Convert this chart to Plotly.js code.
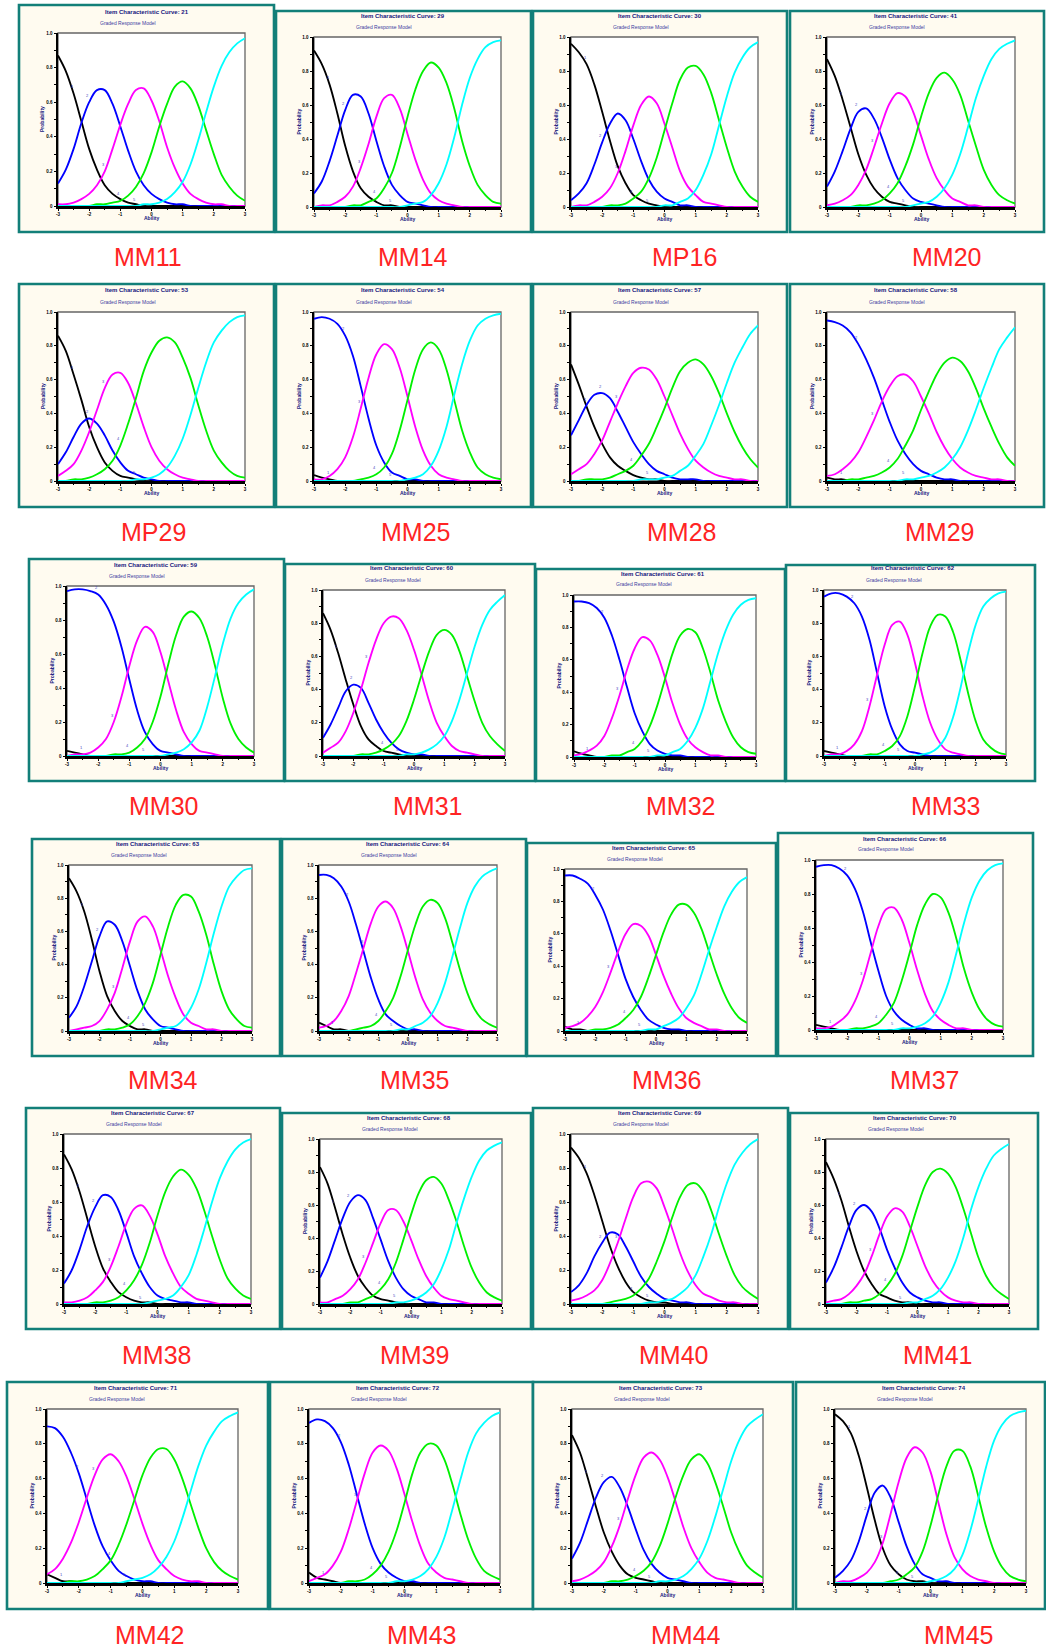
<!DOCTYPE html>
<html>
<head>
<meta charset="utf-8">
<script src="https://cdn.plot.ly/plotly-3.0.1.min.js"></script>
<style>
html,body{margin:0;padding:0;background:#ffffff;}
#chart{width:1046px;height:1648px;}
</style>
</head>
<body>
<div id="chart"></div>
<script>
// ---------- data ----------
const ability = [-3,-2.75,-2.5,-2.25,-2,-1.75,-1.5,-1.25,-1,-0.75,-0.5,-0.25,0,0.25,0.5,0.75,1,1.25,1.5,1.75,2,2.25,2.5,2.75,3];
const xTickVals = [-3,-2,-1,0,1,2,3];
const xTickText = ['-3','-2','-1','0','1','2','3'];
const yTickVals = [0,0.2,0.4,0.6,0.8,1];
const yTickText = ['0','0.2','0.4','0.6','0.8','1.0'];
const categoryNames = ['1','2','3','4','5'];
const panelNames = ['MM11','MM14','MP16','MM20','MP29','MM25','MM28','MM29','MM30','MM31','MM32','MM33',
                    'MM34','MM35','MM36','MM37','MM38','MM39','MM40','MM41','MM42','MM43','MM44','MM45'];
const itemNumbers = [21,29,30,41,53,54,57,58,59,60,61,62,63,64,65,66,67,68,69,70,71,72,73,74];

// each: [category 1, category 2, category 3, category 4, category 5] probabilities along the ability grid
const MM11 = [
 [.87,.78,.65,.49,.33, .21,.12,.07,.04,.02, .01,0,0,0,0, 0,0,0,0,0, 0,0,0,0,0],
 [.13,.21,.33,.48,.60, .67,.67,.59,.46,.32, .20,.12,.07,.04,.02, .01,.01,0,0,0, 0,0,0,0,0],
 [.01,.01,.02,.04,.07, .12,.20,.33,.47,.59, .67,.68,.61,.49,.34, .22,.13,.07,.04,.02, .01,.01,0,0,0],
 [0,0,0,0,0, .01,.01,.02,.03,.06, .11,.19,.31,.46,.59, .69,.72,.68,.58,.44, .30,.18,.11,.06,.03],
 [0,0,0,0,0, 0,0,0,0,0, 0,.01,.01,.02,.04, .08,.14,.24,.38,.54, .69,.81,.89,.94,.97]];
const MM14 = [
 [.92,.84,.72,.55,.36, .21,.11,.06,.03,.01, .01,0,0,0,0, 0,0,0,0,0, 0,0,0,0,0],
 [.08,.15,.27,.42,.57, .66,.65,.55,.39,.24, .13,.07,.03,.02,.01, 0,0,0,0,0, 0,0,0,0,0],
 [0,.01,.01,.03,.06, .12,.23,.37,.53,.64, .66,.58,.43,.28,.16, .08,.04,.02,.01,0, 0,0,0,0,0],
 [0,0,0,0,0, .01,.01,.03,.05,.11, .20,.35,.53,.69,.80, .85,.82,.73,.58,.39, .24,.13,.07,.03,.02],
 [0,0,0,0,0, 0,0,0,0,0, 0,0,.01,.02,.03, .07,.14,.25,.41,.60, .76,.87,.94,.97,.98]];
const MP16 = [
 [.96,.91,.84,.72,.56, .39,.24,.14,.07,.04, .02,.01,0,0,0, 0,0,0,0,0, 0,0,0,0,0],
 [.04,.08,.14,.25,.38, .49,.55,.51,.40,.27, .16,.09,.05,.03,.01, .01,0,0,0,0, 0,0,0,0,0],
 [0,.01,.01,.03,.06, .11,.20,.33,.48,.60, .65,.61,.49,.35,.21, .12,.07,.03,.02,.01, 0,0,0,0,0],
 [0,0,0,0,0, .01,.01,.02,.05,.09, .17,.29,.45,.61,.75, .82,.83,.78,.67,.51, .35,.21,.12,.06,.03],
 [0,0,0,0,0, 0,0,0,0,0, 0,0,.01,.01,.03, .05,.10,.19,.31,.48, .65,.79,.88,.94,.97]];
const MM20 = [
 [.87,.77,.63,.47,.31, .19,.11,.06,.03,.02, .01,0,0,0,0, 0,0,0,0,0, 0,0,0,0,0],
 [.12,.21,.33,.46,.56, .58,.52,.41,.28,.17, .10,.05,.03,.02,.01, 0,0,0,0,0, 0,0,0,0,0],
 [.01,.02,.04,.07,.13, .22,.35,.49,.61,.67, .65,.56,.42,.28,.17, .10,.05,.03,.01,.01, 0,0,0,0,0],
 [0,0,0,0,.01, .01,.02,.04,.08,.14, .24,.37,.53,.67,.76, .79,.75,.66,.51,.36, .22,.13,.07,.04,.02],
 [0,0,0,0,0, 0,0,0,0,0, 0,.01,.02,.03,.06, .11,.19,.31,.47,.64, .77,.87,.93,.96,.98]];
const MP29 = [
 [.86,.77,.63,.48,.32, .20,.11,.06,.03,.02, .01,0,0,0,0, 0,0,0,0,0, 0,0,0,0,0],
 [.10,.17,.26,.34,.37, .34,.27,.18,.11,.06, .04,.02,.01,0,0, 0,0,0,0,0, 0,0,0,0,0],
 [.03,.06,.10,.18,.29, .42,.55,.63,.64,.58, .46,.32,.20,.12,.07, .04,.02,.01,0,0, 0,0,0,0,0],
 [0,0,.01,.01,.02, .04,.07,.12,.21,.34, .49,.65,.76,.83,.85, .82,.73,.61,.45,.30, .18,.11,.06,.03,.02],
 [0,0,0,0,0, 0,0,0,0,0, .01,.01,.02,.04,.08, .15,.25,.39,.55,.70, .82,.89,.94,.97,.98]];
const MM25 = [
 [.035,.02,.01,0,0, 0,0,0,0,0, 0,0,0,0,0, 0,0,0,0,0, 0,0,0,0,0],
 [.96,.97,.96,.93,.86, .74,.56,.37,.21,.11, .05,.03,.01,.01,0, 0,0,0,0,0, 0,0,0,0,0],
 [.01,.01,.03,.07,.14, .26,.43,.61,.75,.81, .78,.67,.50,.32,.18, .09,.04,.02,.01,0, 0,0,0,0,0],
 [0,0,0,0,0, 0,.01,.02,.04,.08, .16,.30,.48,.66,.78, .82,.78,.66,.48,.30, .17,.08,.04,.02,.01],
 [0,0,0,0,0, 0,0,0,0,0, 0,0,.01,.02,.04, .09,.18,.32,.51,.69, .83,.92,.96,.98,.99]];
const MM28 = [
 [.69,.57,.44,.32,.22, .14,.09,.06,.035,.02, .01,.01,0,0,0, 0,0,0,0,0, 0,0,0,0,0],
 [.27,.36,.45,.51,.52, .49,.41,.32,.23,.16, .10,.06,.04,.02,.01, .01,.01,0,0,0, 0,0,0,0,0],
 [.04,.07,.10,.16,.24, .35,.46,.56,.64,.67, .66,.60,.50,.39,.28, .19,.12,.08,.05,.03, .02,.01,.01,0,0],
 [0,0,.01,.01,.01, .02,.04,.06,.09,.15, .22,.32,.43,.55,.65, .70,.72,.69,.62,.52, .40,.29,.20,.13,.08],
 [0,0,0,0,0, 0,0,0,0,.01, .01,.01,.02,.03,.06, .09,.15,.22,.33,.45, .58,.70,.79,.87,.92]];
const MM29 = [
 [.02,.01,.01,0,0, 0,0,0,0,0, 0,0,0,0,0, 0,0,0,0,0, 0,0,0,0,0],
 [.95,.94,.92,.88,.81, .72,.61,.48,.35,.24, .16,.10,.06,.04,.02, .01,.01,0,0,0, 0,0,0,0,0],
 [.03,.04,.07,.11,.17, .26,.36,.47,.56,.62, .63,.59,.50,.40,.29, .20,.13,.08,.05,.03, .02,.01,.01,0,0],
 [0,0,0,.01,.01, .02,.03,.05,.08,.13, .21,.30,.42,.53,.63, .70,.73,.71,.65,.55, .43,.32,.22,.14,.09],
 [0,0,0,0,0, 0,0,0,0,0, .01,.01,.02,.03,.05, .08,.13,.20,.30,.42, .55,.67,.78,.85,.91]];
const MM30 = [
 [.03,.02,.01,0,0, 0,0,0,0,0, 0,0,0,0,0, 0,0,0,0,0, 0,0,0,0,0],
 [.97,.98,.98,.97,.95, .89,.79,.64,.45,.27, .14,.07,.03,.02,.01, 0,0,0,0,0, 0,0,0,0,0],
 [0,.01,.01,.02,.05, .10,.20,.35,.53,.68, .76,.73,.61,.44,.27, .14,.07,.03,.02,.01, 0,0,0,0,0],
 [0,0,0,0,0, 0,.01,.01,.02,.05, .10,.20,.35,.54,.71, .82,.85,.81,.70,.53, .34,.19,.10,.05,.02],
 [0,0,0,0,0, 0,0,0,0,0, 0,0,0,.01,.02, .04,.08,.15,.29,.47, .66,.81,.90,.95,.98]];
const MM31 = [
 [.86,.76,.62,.46,.31, .18,.10,.06,.03,.02, .01,0,0,0,0, 0,0,0,0,0, 0,0,0,0,0],
 [.11,.19,.29,.39,.43, .41,.32,.22,.14,.08, .04,.02,.01,.01,0, 0,0,0,0,0, 0,0,0,0,0],
 [.02,.05,.08,.15,.26, .40,.56,.70,.80,.84, .83,.76,.64,.49,.33, .20,.12,.06,.03,.02, .01,0,0,0,0],
 [0,0,0,0,0, .01,.01,.02,.04,.07, .12,.21,.34,.49,.63, .73,.76,.73,.63,.48, .33,.20,.12,.07,.03],
 [0,0,0,0,0, 0,0,0,0,0, 0,.01,.01,.02,.04, .07,.12,.21,.34,.50, .66,.79,.88,.93,.97]];
const MM32 = [
 [.035,.02,.01,0,0, 0,0,0,0,0, 0,0,0,0,0, 0,0,0,0,0, 0,0,0,0,0],
 [.96,.96,.95,.92,.86, .75,.60,.43,.27,.16, .08,.04,.02,.01,.01, 0,0,0,0,0, 0,0,0,0,0],
 [.01,.02,.04,.07,.13, .24,.38,.54,.67,.74, .72,.63,.49,.33,.20, .11,.06,.03,.01,.01, 0,0,0,0,0],
 [0,0,0,0,0, .01,.01,.03,.05,.10, .19,.32,.48,.64,.75, .79,.77,.67,.52,.35, .22,.12,.06,.03,.02],
 [0,0,0,0,0, 0,0,0,0,0, 0,.01,.01,.03,.05, .10,.18,.30,.47,.64, .78,.88,.94,.97,.98]];
const MM33 = [
 [.03,.02,.01,0,0, 0,0,0,0,0, 0,0,0,0,0, 0,0,0,0,0, 0,0,0,0,0],
 [.96,.98,.98,.96,.92, .84,.70,.50,.30,.16, .07,.03,.02,.01,0, 0,0,0,0,0, 0,0,0,0,0],
 [0,.01,.01,.03,.07, .15,.30,.49,.67,.79, .81,.73,.56,.36,.20, .10,.04,.02,.01,0, 0,0,0,0,0],
 [0,0,0,0,0, 0,.01,.01,.03,.06, .12,.24,.42,.62,.78, .85,.84,.75,.58,.38, .21,.10,.05,.02,.01],
 [0,0,0,0,0, 0,0,0,0,0, 0,0,0,.01,.02, .05,.11,.23,.41,.62, .79,.90,.95,.98,.99]];
const MM34 = [
 [.92,.84,.72,.55,.36, .21,.12,.06,.03,.01, .01,0,0,0,0, 0,0,0,0,0, 0,0,0,0,0],
 [.08,.15,.27,.42,.57, .66,.64,.54,.39,.24, .13,.07,.03,.02,.01, 0,0,0,0,0, 0,0,0,0,0],
 [0,.01,.02,.03,.06, .13,.23,.38,.54,.66, .69,.63,.49,.33,.20, .10,.05,.03,.01,.01, 0,0,0,0,0],
 [0,0,0,0,0, .01,.01,.02,.04,.09, .17,.29,.46,.63,.76, .82,.81,.72,.58,.40, .24,.13,.07,.03,.02],
 [0,0,0,0,0, 0,0,0,0,0, 0,0,.01,.02,.03, .07,.14,.25,.41,.59, .75,.87,.93,.97,.98]];
const MM35 = [
 [.05,.03,.01,.01,0, 0,0,0,0,0, 0,0,0,0,0, 0,0,0,0,0, 0,0,0,0,0],
 [.94,.94,.92,.87,.78, .64,.48,.32,.19,.10, .06,.03,.01,.01,0, 0,0,0,0,0, 0,0,0,0,0],
 [.02,.03,.06,.12,.21, .35,.50,.65,.75,.78, .74,.63,.48,.32,.19, .11,.06,.03,.02,.01, 0,0,0,0,0],
 [0,0,0,0,0, .01,.02,.03,.06,.12, .20,.33,.49,.64,.75, .79,.77,.68,.53,.37, .23,.13,.07,.04,.02],
 [0,0,0,0,0, 0,0,0,0,0, 0,.01,.01,.03,.05, .09,.17,.29,.45,.62, .77,.87,.93,.96,.98]];
const MM36 = [
 [.025,.01,.01,0,0, 0,0,0,0,0, 0,0,0,0,0, 0,0,0,0,0, 0,0,0,0,0],
 [.96,.96,.94,.91,.84, .75,.62,.47,.32,.21, .13,.07,.04,.02,.01, .01,0,0,0,0, 0,0,0,0,0],
 [.02,.03,.05,.09,.15, .24,.36,.49,.60,.66, .65,.59,.47,.34,.23, .14,.08,.05,.03,.01, .01,0,0,0,0],
 [0,0,0,0,.01, .01,.02,.04,.08,.13, .21,.33,.47,.61,.72, .78,.78,.73,.63,.49, .35,.23,.14,.08,.05],
 [0,0,0,0,0, 0,0,0,0,0, 0,.01,.01,.03,.05, .08,.14,.22,.35,.50, .64,.77,.86,.92,.95]];
const MM37 = [
 [.03,.02,.01,0,0, 0,0,0,0,0, 0,0,0,0,0, 0,0,0,0,0, 0,0,0,0,0],
 [.96,.97,.97,.95,.91, .83,.70,.52,.35,.20, .11,.06,.03,.01,.01, 0,0,0,0,0, 0,0,0,0,0],
 [.01,.01,.02,.05,.09, .17,.29,.45,.61,.71, .72,.65,.51,.35,.21, .11,.06,.03,.01,.01, 0,0,0,0,0],
 [0,0,0,0,0, .01,.01,.02,.04,.09, .16,.29,.45,.62,.74, .80,.78,.69,.54,.36, .22,.12,.06,.03,.02],
 [0,0,0,0,0, 0,0,0,0,0, 0,.01,.01,.02,.04, .08,.16,.28,.45,.63, .78,.88,.94,.97,.98]];
const MM38 = [
 [.88,.79,.66,.50,.34, .21,.13,.07,.04,.02, .01,.01,0,0,0, 0,0,0,0,0, 0,0,0,0,0],
 [.12,.20,.32,.46,.57, .64,.63,.55,.42,.28, .18,.10,.05,.03,.02, .01,.01,0,0,0, 0,0,0,0,0],
 [.01,.01,.02,.04,.08, .13,.22,.34,.47,.56, .58,.52,.41,.28,.18, .10,.06,.03,.02,.01, 0,0,0,0,0],
 [0,0,0,0,.01, .01,.02,.04,.08,.14, .23,.36,.52,.66,.75, .79,.76,.68,.55,.40, .26,.15,.09,.05,.03],
 [0,0,0,0,0, 0,0,0,0,0, 0,.01,.02,.03,.05, .10,.17,.29,.44,.60, .74,.84,.91,.95,.97]];
const MM39 = [
 [.83,.73,.58,.42,.28, .17,.10,.05,.03,.02, .01,0,0,0,0, 0,0,0,0,0, 0,0,0,0,0],
 [.16,.26,.39,.52,.62, .66,.63,.52,.39,.26, .16,.09,.05,.03,.01, .01,0,0,0,0, 0,0,0,0,0],
 [.01,.01,.03,.05,.09, .15,.25,.37,.49,.57, .57,.50,.39,.27,.17, .10,.05,.03,.02,.01, 0,0,0,0,0],
 [0,0,0,0,.01, .01,.03,.05,.09,.15, .25,.39,.54,.67,.75, .77,.73,.63,.50,.35, .22,.13,.07,.04,.02],
 [0,0,0,0,0, 0,0,0,0,0, .01,.01,.02,.04,.07, .12,.21,.33,.49,.64, .77,.87,.93,.96,.98]];
const MM40 = [
 [.92,.86,.77,.64,.49, .34,.22,.13,.07,.04, .02,.01,.01,0,0, 0,0,0,0,0, 0,0,0,0,0],
 [.07,.11,.18,.28,.36, .42,.41,.34,.25,.16, .10,.06,.03,.02,.01, .01,0,0,0,0, 0,0,0,0,0],
 [.02,.03,.05,.08,.14, .24,.36,.50,.63,.71, .72,.68,.57,.44,.30, .19,.11,.06,.04,.02, .01,.01,0,0,0],
 [0,0,0,0,0, .01,.02,.03,.05,.09, .15,.25,.37,.51,.63, .70,.71,.66,.55,.41, .28,.17,.10,.06,.03],
 [0,0,0,0,0, 0,0,0,0,0, .01,.01,.02,.03,.06, .10,.17,.28,.41,.57, .71,.82,.89,.94,.97]];
const MM41 = [
 [.86,.76,.63,.47,.32, .20,.12,.06,.04,.02, .01,.01,0,0,0, 0,0,0,0,0, 0,0,0,0,0],
 [.13,.22,.34,.47,.57, .60,.56,.46,.33,.22, .13,.07,.04,.02,.01, .01,0,0,0,0, 0,0,0,0,0],
 [.01,.02,.03,.06,.11, .18,.29,.42,.53,.58, .56,.47,.35,.23,.14, .08,.04,.02,.01,.01, 0,0,0,0,0],
 [0,0,0,.01,.01, .02,.03,.06,.11,.18, .29,.44,.59,.72,.80, .82,.79,.71,.58,.43, .28,.17,.10,.06,.03],
 [0,0,0,0,0, 0,0,0,0,0, 0,.01,.01,.03,.05, .09,.16,.26,.40,.57, .71,.82,.90,.94,.97]];
const MM42 = [
 [.05,.03,.01,.01,0, 0,0,0,0,0, 0,0,0,0,0, 0,0,0,0,0, 0,0,0,0,0],
 [.90,.89,.84,.75,.63, .48,.33,.21,.13,.07, .04,.02,.01,.01,0, 0,0,0,0,0, 0,0,0,0,0],
 [.05,.08,.14,.23,.35, .49,.62,.71,.74,.70, .61,.48,.34,.22,.13, .08,.04,.02,.01,.01, 0,0,0,0,0],
 [0,0,0,.01,.01, .02,.04,.08,.13,.22, .34,.48,.62,.72,.77, .77,.71,.60,.46,.32, .20,.12,.07,.04,.02],
 [0,0,0,0,0, 0,0,0,0,0, .01,.02,.03,.05,.09, .15,.24,.37,.52,.67, .79,.87,.93,.96,.98]];
const MM43 = [
 [.06,.03,.02,.01,0, 0,0,0,0,0, 0,0,0,0,0, 0,0,0,0,0, 0,0,0,0,0],
 [.92,.94,.93,.89,.81, .68,.51,.34,.20,.11, .06,.03,.01,.01,0, 0,0,0,0,0, 0,0,0,0,0],
 [.01,.03,.05,.10,.18, .31,.47,.63,.75,.79, .76,.66,.51,.35,.21, .11,.06,.03,.02,.01, 0,0,0,0,0],
 [0,0,0,0,0, .01,.01,.02,.05,.10, .18,.30,.46,.63,.75, .80,.79,.71,.57,.40, .25,.14,.07,.04,.02],
 [0,0,0,0,0, 0,0,0,0,0, 0,.01,.01,.02,.04, .08,.15,.26,.42,.59, .75,.86,.92,.96,.98]];
const MM44 = [
 [.85,.75,.60,.44,.29, .18,.10,.05,.03,.02, .01,0,0,0,0, 0,0,0,0,0, 0,0,0,0,0],
 [.14,.23,.36,.49,.58, .61,.55,.44,.31,.19, .11,.06,.03,.02,.01, 0,0,0,0,0, 0,0,0,0,0],
 [.01,.02,.04,.07,.12, .21,.33,.48,.62,.72, .75,.71,.61,.47,.32, .20,.12,.06,.03,.02, .01,0,0,0,0],
 [0,0,0,0,0, .01,.01,.02,.04,.07, .12,.21,.34,.49,.62, .71,.74,.69,.58,.44, .29,.18,.10,.06,.03],
 [0,0,0,0,0, 0,0,0,0,0, 0,.01,.01,.02,.04, .08,.14,.24,.38,.54, .70,.82,.90,.94,.97]];
const MM45 = [
 [.97,.93,.86,.73,.55, .36,.20,.10,.05,.02, .01,.01,0,0,0, 0,0,0,0,0, 0,0,0,0,0],
 [.03,.07,.13,.24,.39, .52,.56,.49,.35,.21, .11,.05,.03,.01,.01, 0,0,0,0,0, 0,0,0,0,0],
 [0,.01,.01,.03,.06, .12,.23,.40,.58,.72, .78,.75,.64,.46,.28, .15,.08,.04,.02,.01, 0,0,0,0,0],
 [0,0,0,0,0, 0,0,.01,.02,.05, .09,.18,.33,.51,.67, .76,.76,.67,.50,.32, .18,.09,.04,.02,.01],
 [0,0,0,0,0, 0,0,0,0,0, 0,0,.01,.02,.04, .08,.16,.30,.48,.67, .82,.91,.96,.98,.99]];

const curveSets = [MM11,MM14,MP16,MM20,MP29,MM25,MM28,MM29,MM30,MM31,MM32,MM33,
                   MM34,MM35,MM36,MM37,MM38,MM39,MM40,MM41,MM42,MM43,MM44,MM45];

// ---------- page geometry (pixels) ----------
const W = 1046, H = 1648;
const frameBoxes = [
 [19,274,5,232],[276,531,11,232],[533,787,11,232],[790,1044,11,232],
 [19,274,284,507],[276,531,284,507],[533,787,284,507],[790,1044,284,507],
 [29,284,559,781],[285,535,564,781],[536,785,569,781],[786,1035,565,781],
 [32,280,839,1056],[282,526,839,1056],[527,776,843,1056],[778,1033,833,1056],
 [26,280,1108,1329],[282,531,1113,1329],[533,788,1108,1329],[790,1038,1113,1329],
 [7,268,1382,1609],[270,533,1382,1609],[533,793,1382,1609],[796,1045,1382,1609]];
const plotBoxes = [
 [58,245,33,206],[314,501,37,207],[571,758,37,207],[827,1015,37,207],
 [58,245,312,481],[314,501,312,481],[571,758,312,481],[827,1015,312,481],
 [67,254,586,756],[323,505,590,756],[574,756,595,757],[824,1006,590,756],
 [69,252,865,1031],[319,497,865,1031],[565,747,869,1031],[816,1003,860,1030],
 [64,251,1134,1304],[320,502,1139,1304],[571,758,1134,1304],[826,1009,1139,1304],
 [47,238,1409,1583],[309,500,1409,1583],[572,763,1409,1583],[835,1026,1409,1583]];
const labelCenters = [
 [148,257],[413,257],[684,257],[946,257],
 [153,532],[415,532],[681,532],[939,532],
 [163,806],[427,806],[680,806],[945,806],
 [163,1080],[414,1080],[666,1080],[924,1080],
 [156,1355],[414,1355],[673,1355],[937,1355],
 [149,1635],[421,1635],[686,1635],[958,1635]];

const curveColors = ['#000000','#0000ff','#ff00ff','#00f000','#00ffff'];
const FONT = 'Liberation Sans, Arial, Helvetica, sans-serif';
const NAVY = '#16167e';
const px = v => v / W;
const py = v => 1 - v / H;

const traces = [], shapes = [], annotations = [];
const layout = {
  width: W, height: H,
  margin: {l:0, r:0, t:0, b:0, pad:0},
  paper_bgcolor: '#ffffff',
  plot_bgcolor: 'rgba(0,0,0,0)',
  showlegend: false,
  font: {family: FONT}
};

curveSets.forEach((set, i) => {
  const n = i + 1;
  const sx = n === 1 ? '' : String(n);
  const f = frameBoxes[i], p = plotBoxes[i];

  layout['xaxis' + sx] = {
    domain: [px(p[0]), px(p[1])], range: [-3, 3], anchor: 'y' + sx,
    showline: true, linecolor: '#000', linewidth: 2.5,
    ticks: 'outside', ticklen: 2, tickwidth: 1, tickcolor: '#000',
    tickmode: 'array', tickvals: xTickVals, ticktext: xTickText,
    tickfont: {size: 4.5, family: FONT, color: '#000', weight: 'bold'},
    minor: {ticks: 'outside', ticklen: 1.5, tickwidth: 1, tickcolor: '#000', tickmode: 'linear', tick0: -3, dtick: 0.5, showgrid: false},
    showgrid: false, zeroline: false, fixedrange: true
  };
  layout['yaxis' + sx] = {
    domain: [py(p[3]), py(p[2])], range: [0, 1], anchor: 'x' + sx,
    showline: true, linecolor: '#000', linewidth: 2.5,
    ticks: 'outside', ticklen: 2, tickwidth: 1, tickcolor: '#000',
    tickmode: 'array', tickvals: yTickVals, ticktext: yTickText,
    tickfont: {size: 4.5, family: FONT, color: '#000', weight: 'bold'},
    minor: {ticks: 'outside', ticklen: 1.5, tickwidth: 1, tickcolor: '#000', tickmode: 'linear', tick0: 0, dtick: 0.1, showgrid: false},
    showgrid: false, zeroline: false, fixedrange: true
  };

  // panel frame and white plotting area
  shapes.push({type:'rect', xref:'paper', yref:'paper', x0:px(f[0]), x1:px(f[1]), y0:py(f[3]), y1:py(f[2]),
               fillcolor:'#fffbf0', line:{color:'#127f79', width:2.6}, layer:'below'});
  shapes.push({type:'rect', xref:'paper', yref:'paper', x0:px(p[0]), x1:px(p[1]), y0:py(p[3]), y1:py(p[2]),
               fillcolor:'#ffffff', line:{color:'#666666', width:1.3}, layer:'below'});

  set.forEach((vals, k) => {
    traces.push({
      type:'scatter', mode:'lines', x: ability, y: vals,
      xaxis:'x' + sx, yaxis:'y' + sx, name: categoryNames[k],
      line:{color: curveColors[k], width: 1.85, shape:'spline', smoothing: 1},
      hoverinfo:'skip'
    });
    const xi = 2 * (k + 1);
    annotations.push({xref:'x' + sx, yref:'y' + sx, x: ability[xi] - 0.05, y: vals[xi] + 0.04,
      text: categoryNames[k], showarrow:false, font:{size:4, color:'#4646c0', family: FONT}});
  });

  const cx = (p[0] + p[1]) / 2, cy = (p[2] + p[3]) / 2;
  annotations.push({xref:'paper', yref:'paper', x:px(p[0] + 89), y:py(p[2] - 21.5), xanchor:'center', yanchor:'middle',
    text:'Item Characteristic Curve: ' + itemNumbers[i], showarrow:false,
    font:{size:6, color:NAVY, family:FONT, weight:'bold'}});
  annotations.push({xref:'paper', yref:'paper', x:px(p[0] + 70), y:py(p[2] - 10.5), xanchor:'center', yanchor:'middle',
    text:'Graded Response Model', showarrow:false,
    font:{size:5, color:'#3c3ca0', family:FONT}});
  annotations.push({xref:'paper', yref:'paper', x:px(p[0] - 15.5), y:py(cy), xanchor:'center', yanchor:'middle',
    text:'Probability', textangle:-90, showarrow:false,
    font:{size:5, color:NAVY, family:FONT, weight:'bold'}});
  annotations.push({xref:'paper', yref:'paper', x:px(cx), y:py(p[3] + 12), xanchor:'center', yanchor:'middle',
    text:'Ability', showarrow:false,
    font:{size:5, color:NAVY, family:FONT, weight:'bold'}});
  annotations.push({xref:'paper', yref:'paper', x:px(labelCenters[i][0]), y:py(labelCenters[i][1]), xanchor:'center', yanchor:'middle',
    text: panelNames[i], showarrow:false,
    font:{size:25, color:'#ff2424', family:FONT}});
});

layout.shapes = shapes;
layout.annotations = annotations;

Plotly.newPlot('chart', traces, layout, {staticPlot:true, displayModeBar:false, responsive:false});
</script>
</body>
</html>
